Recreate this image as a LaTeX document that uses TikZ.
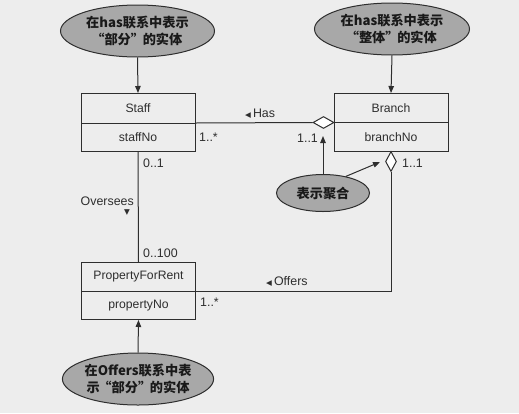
\documentclass[tikz,border=0pt]{standalone}
\usepackage{fontspec}
\setmainfont{Liberation Sans}
\newfontfamily\cjk{Noto Sans CJK SC}
\newfontfamily\symf{DejaVu Sans}
\usetikzlibrary{arrows.meta,shapes.geometric}
\definecolor{bg}{HTML}{EDEDED}
\definecolor{ln}{HTML}{2E2E2E}
\definecolor{ell}{HTML}{A8A8A8}
\newcommand{\oq}{\makebox[0.9em][r]{“}}
\newcommand{\cq}{\makebox[0.9em][l]{”}}
\begin{document}
\begin{tikzpicture}[x=1pt,y=-1pt,
  every node/.style={font=\fontsize{12.2}{14}\selectfont, text=ln},
  hdr/.style={draw=ln, line width=1pt, minimum width=114pt, inner sep=0pt, anchor=north},
  bub/.style={ellipse, draw=ln, fill=ell, line width=1pt, inner sep=0pt, align=center,
    font=\cjk\bfseries\fontsize{13.2}{16.5}\selectfont, text=black!90},
  lbl/.style={inner sep=0pt, font=\fontsize{12.4}{14}\selectfont},
  con/.style={draw=ln, line width=1pt},
  tip/.style={-{Triangle[length=7pt,width=5.5pt]}},
  agg/.style={diamond, draw=ln, fill=white, line width=1pt, inner sep=0pt}
]
\fill[bg] (0,0) rectangle (519,413);
\useasboundingbox (0,0) rectangle (519,413);

% classes
\node[hdr, minimum height=30pt] (staff) at (138,93) {Staff};
\node[hdr, minimum height=28pt] (staffno) at (138,123) {staffNo};
\node[hdr, minimum height=29pt] (branch) at (391,93) {Branch};
\node[hdr, minimum height=29pt] (branchno) at (391,122) {branchNo};
\node[hdr, minimum height=29pt] (pfr) at (138.5,262) {PropertyForRent};
\node[hdr, minimum height=28pt] (pfrno) at (138.5,291) {propertyNo};

% annotation ellipses
\node[bub, minimum width=154pt, minimum height=52pt] (e1) at (137.5,31) {在has联系中表示\\\oq 部分\cq 的实体};
\node[bub, minimum width=155pt, minimum height=52pt] (e2) at (392,29) {在has联系中表示\\\oq 整体\cq 的实体};
\node[bub, minimum width=93pt, minimum height=37pt] (e3) at (323,193) {表示聚合};
\node[bub, minimum width=150pt, minimum height=52pt] (e4) at (138,379) {在Offers联系中表\\示\oq 部分\cq 的实体};

% aggregation diamonds
\node[agg, minimum width=21pt, minimum height=12pt] (hasd) at (323.5,122.5) {};
\node[agg, minimum width=11pt, minimum height=20pt] (offd) at (391,161.5) {};

\coordinate (t1) at (323,136);
\coordinate (t2) at (380,162);

% connectors
\draw[con,tip] (e1.south) -- (staff.north);
\draw[con,tip] (e2.south) -- (branch.north);
\draw[con,tip] (e4.north) -- (pfrno.south);
\draw[con] (staffno.north east) -- (hasd.west);
\draw[con] (staffno.south) -- (pfr.north);
\draw[con] (offd.south) |- (pfrno.north east);
\draw[con,tip] (e3.north) -- (t1);
\draw[con,tip] (e3.36) -- (t2);

% labels
\node[lbl, anchor=west] (hasl) at (245,114) {{\symf\fontsize{7.5}{8}\selectfont ◀}\,Has};
\node[lbl, anchor=west] (offl) at (266,281) {{\symf\fontsize{7.5}{8}\selectfont ◀}\,Offers};
\node[lbl, anchor=east] (ovl) at (134,201) {Oversees};
\node[lbl] (ovt) at (127,213) {\symf\fontsize{7.5}{8}\selectfont ▼};
\node[lbl, anchor=west] (m1) at (199,137) {1..*};
\node[lbl, anchor=west] (m2) at (297,138) {1..1};
\node[lbl, anchor=west] (m3) at (143,163) {0..1};
\node[lbl, anchor=west] (m4) at (143,253) {0..100};
\node[lbl, anchor=west] (m5) at (402,163) {1..1};
\node[lbl, anchor=west] (m6) at (200,302) {1..*};
\end{tikzpicture}
\end{document}
